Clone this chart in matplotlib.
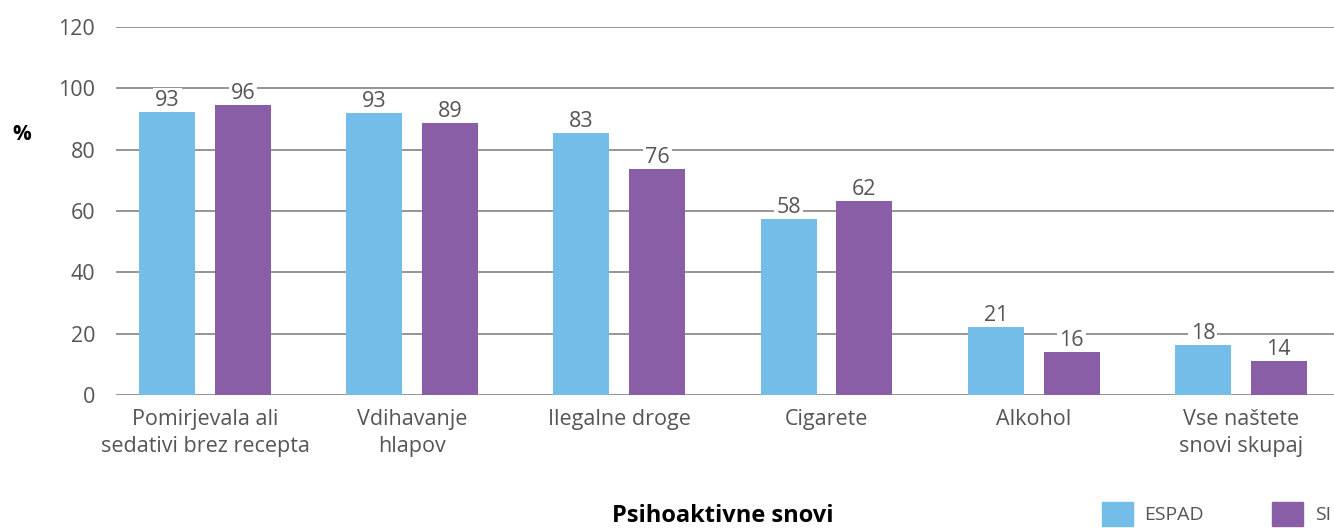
import matplotlib
matplotlib.use("Agg")
import matplotlib.pyplot as plt
import matplotlib.patches as mpatches
import numpy as np

plt.rcParams['font.family'] = ['Open Sans', 'DejaVu Sans']

categories = ["Pomirjevala ali\nsedativi brez recepta", "Vdihavanje\nhlapov", "Ilegalne droge",
              "Cigarete", "Alkohol", "Vse naštete\nsnovi skupaj"]
# bar heights as drawn in the picture
espad = [92.3, 91.9, 85.4, 57.4, 22.2, 16.3]
si = [94.6, 88.7, 73.7, 63.3, 14.0, 11.1]
# printed labels
espad_labels = ["93", "93", "83", "58", "21", "18"]
si_labels = ["96", "89", "76", "62", "16", "14"]
series_names = ["ESPAD", "SI"]

c_espad = "#74bde9"
c_si = "#8a5ea6"
txt = "#555555"
fs = 15.5

fig = plt.figure(figsize=(13.34, 5.28), dpi=100)
ax = fig.add_axes([116/1334, 133/528, 1 - 116/1334, 368/528])

x = np.arange(len(categories))
w = 0.27
off = 0.183
b1 = ax.bar(x - off, espad, w, color=c_espad, zorder=2)
b2 = ax.bar(x + off, si, w, color=c_si, zorder=2)

# labels sit under the bars so their white box only hides the grid
for bars, labs in [(b1, espad_labels), (b2, si_labels)]:
    for b, lab in zip(bars, labs):
        ax.text(b.get_x() + b.get_width()/2, b.get_height() + 0.3, lab,
                ha='center', va='bottom', fontsize=fs, color=txt, zorder=1.5,
                bbox=dict(facecolor='white', edgecolor='none', pad=1.5))

ax.set_ylim(0, 120)
ax.set_xlim(-0.43, 5.45)
ax.set_yticks(range(0, 121, 20))
ax.yaxis.grid(True, color="#8c8c8c", linewidth=1.3, zorder=1)
ax.set_axisbelow(True)
for s in ax.spines.values():
    s.set_visible(False)
ax.tick_params(axis='both', length=0, labelsize=fs, labelcolor=txt)
ax.tick_params(axis='y', pad=15)
ax.tick_params(axis='x', pad=10)
ax.set_xticks(x)
ax.set_xticklabels(categories, linespacing=1.4)

fig.text(22/1334, (528-135)/528, "%", fontsize=15, fontweight='bold', ha='center', va='center')
fig.text(723/1334, 6/528, "Psihoaktivne snovi", fontsize=17, fontweight='bold',
         ha='center', va='baseline')

handles = [mpatches.Patch(color=c_espad), mpatches.Patch(color=c_si)]
fig.legend(handles, series_names, loc='center left', bbox_to_anchor=(1094/1334, 14/528),
           ncol=2, frameon=False, fontsize=14, handlelength=1.6, handleheight=1.6,
           handletextpad=0.6, columnspacing=3.5, labelcolor=txt, borderaxespad=0)

fig.savefig("out.png", dpi=100)
